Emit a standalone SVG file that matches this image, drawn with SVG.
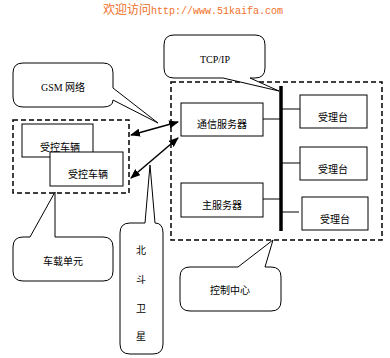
<svg xmlns="http://www.w3.org/2000/svg" width="390" height="358" viewBox="0 0 390 358">
<style>
.t{font-family:"Noto Sans CJK SC","Liberation Serif",serif;font-size:10px;fill:#000;text-anchor:middle}
.s{font-family:"Liberation Serif","Noto Sans CJK SC",serif;font-size:10px;fill:#000;text-anchor:middle}
.box{fill:#fff;stroke:#000;stroke-width:1}
.dash{fill:none;stroke:#000;stroke-width:1.5;stroke-dasharray:5 3}
.call{fill:#fff;stroke:#000;stroke-width:1}
.ln{stroke:#000;stroke-width:1;fill:none}
.arr{stroke:#000;stroke-width:1.5;fill:none;marker-start:url(#ah);marker-end:url(#ah)}
</style>
<defs>
<marker id="ah" viewBox="0 0 10 8" refX="9" refY="4" markerWidth="10" markerHeight="8" markerUnits="userSpaceOnUse" orient="auto-start-reverse">
<path d="M0,0 L10,4 L0,8 Z" fill="#000"/>
</marker>
</defs>
<g id="header">
<text x="103" y="14" fill="#f07028"><tspan font-family="Noto Sans CJK SC,sans-serif" font-size="12">欢迎访问</tspan><tspan font-family="Liberation Mono,monospace" font-size="10">http://www.51kaifa.com</tspan></text>
</g>
<g id="vehicle-unit">
<rect class="dash" x="13" y="120" width="116" height="73"/>
</g>
<g id="control-center">
<rect class="dash" x="171" y="82" width="211" height="158"/>
</g>
<g id="connectors">
<path class="arr" d="M131,135 L178,122"/>
<path class="arr" d="M131,178 L178,138"/>
<line x1="281" y1="86" x2="281" y2="231" stroke="#000" stroke-width="3.5"/>
<path class="ln" d="M263,119 H281 M263,199 H281 M281,109 H300 M281,163 H300 M281,212 H299"/>
</g>
<g id="gsm">
<path class="call" d="M23,63 H103 Q113,63 113,73 V88 L158,123 L113,100 Q113,107 103,107 H23 Q13,107 13,97 V73 Q13,63 23,63 Z"/>
<text class="s" x="63" y="91">GSM 网络</text>
</g>
<g id="tcpip">
<path class="call" d="M174,35 H255 Q265,35 265,45 V68 Q265,78 255,78 H250 L279,91 L223,78 H174 Q164,78 164,68 V45 Q164,35 174,35 Z"/>
<text class="s" x="215" y="63">TCP/IP</text>
</g>
<g id="vehicle1">
<rect class="box" x="22" y="124" width="71" height="33"/>
<text class="t" x="60" y="151">受控车辆</text>
</g>
<g id="vehicle2">
<rect class="box" x="50" y="152" width="73" height="34"/>
<text class="t" x="88" y="178">受控车辆</text>
</g>
<g id="comm-server">
<rect class="box" x="181" y="103" width="82" height="33"/>
<text class="t" x="222" y="128">通信服务器</text>
</g>
<g id="main-server">
<rect class="box" x="181" y="183" width="82" height="34"/>
<text class="t" x="222" y="209">主服务器</text>
</g>
<g id="desk1">
<rect class="box" x="300" y="95" width="67" height="33"/>
<text class="t" x="333" y="121">受理台</text>
</g>
<g id="desk2">
<rect class="box" x="300" y="147" width="67" height="33"/>
<text class="t" x="333" y="173">受理台</text>
</g>
<g id="desk3">
<rect class="box" x="302" y="197" width="66" height="33"/>
<text class="t" x="335" y="223">受理台</text>
</g>
<g id="vehicle-unit-label">
<path class="call" d="M23,237 H30 L55,192 V237 H103 Q113,237 113,247 V271 Q113,281 103,281 H23 Q13,281 13,271 V247 Q13,237 23,237 Z"/>
<text class="t" x="63" y="265">车载单元</text>
</g>
<g id="beidou">
<path class="call" d="M130,223 H145 L150,165 L155,223 Q163,223 163,233 V344 Q163,354 153,354 H130 Q120,354 120,344 V233 Q120,223 130,223 Z"/>
<text class="t" x="141" y="254">北</text>
<text class="t" x="141" y="283">斗</text>
<text class="t" x="141" y="312">卫</text>
<text class="t" x="141" y="340">星</text>
</g>
<g id="control-label">
<path class="call" d="M190,267 H238 L273,240 L265,267 H271 Q281,267 281,277 V301 Q281,311 271,311 H190 Q180,311 180,301 V277 Q180,267 190,267 Z"/>
<text class="t" x="230" y="294">控制中心</text>
</g>
</svg>
